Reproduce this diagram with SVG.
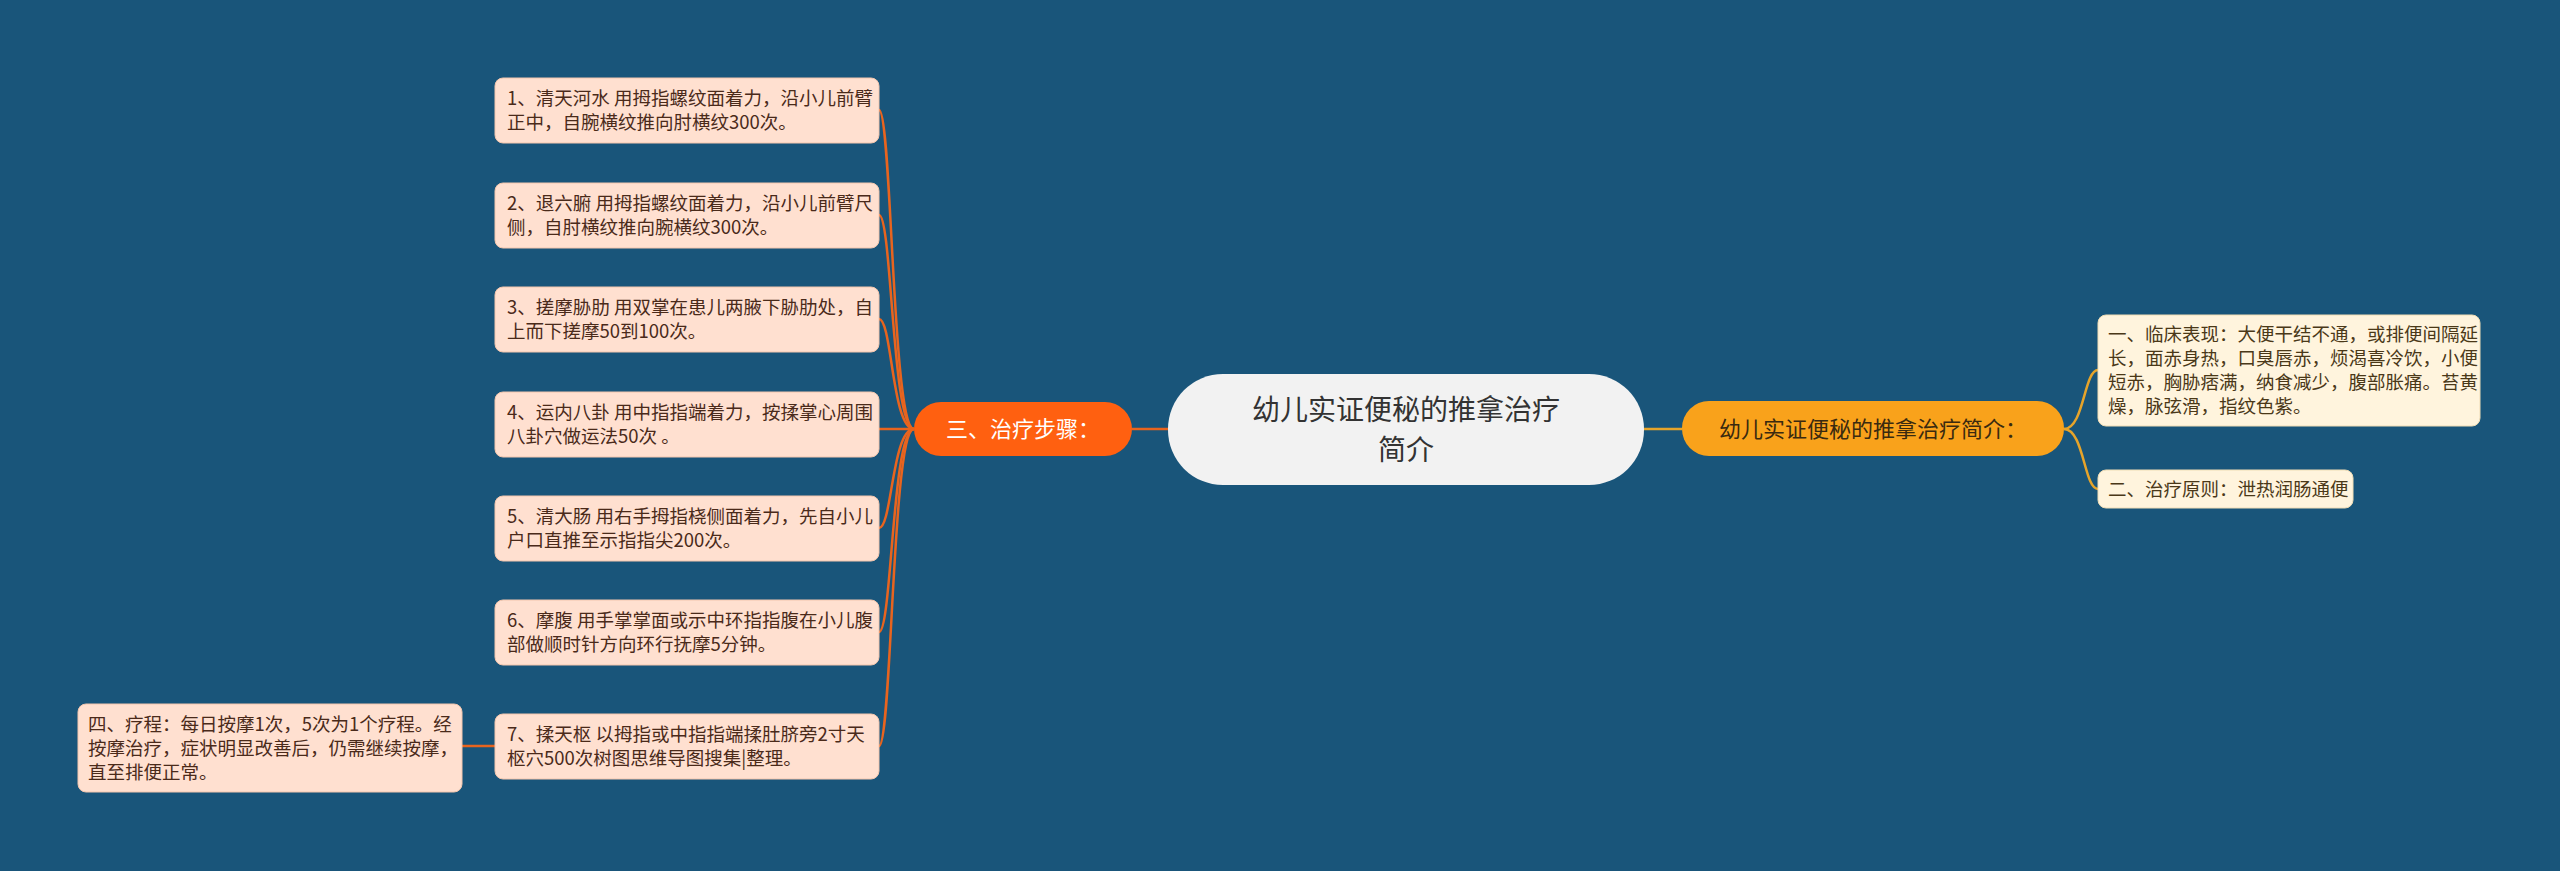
<svg xmlns="http://www.w3.org/2000/svg" width="2560" height="871" viewBox="0 0 2560 871">
<style>
text{font-family:"Noto Sans CJK SC","Noto Sans",sans-serif}
.lb{fill:#FFE0D0;stroke:#F3C6AE;stroke-width:1}
.lt{font-size:18.5px;fill:#4A2A1A}
.rb{fill:#FFF4DD;stroke:#F0DDB5;stroke-width:1}
.rt{font-size:18.5px;fill:#4A3818}
.cl{fill:none;stroke:#E8641E;stroke-width:2.5}
.cr{fill:none;stroke:#E6A42A;stroke-width:2.5}
</style>
<rect width="2560" height="871" fill="#19557A"/>
<g id="connectors">
<path class="cl" d="M1168 429 L1132 429"/>
<path class="cr" d="M1644 429 L1682 429"/>
<path class="cl" d="M914 429 C892 429 892 110 879 110"/>
<path class="cl" d="M914 429 C892 429 892 215 879 215"/>
<path class="cl" d="M914 429 C892 429 892 319 879 319"/>
<path class="cl" d="M914 429 L879 429"/>
<path class="cl" d="M914 429 C892 429 892 528 879 528"/>
<path class="cl" d="M914 429 C892 429 892 632 879 632"/>
<path class="cl" d="M914 429 C892 429 892 746 879 746"/>
<path class="cl" d="M495 746 L462 746"/>
<path class="cr" d="M2064 429 C2084 429 2084 370 2098 370"/>
<path class="cr" d="M2064 429 C2084 429 2084 489 2098 489"/>
</g>
<g id="center">
<rect x="1168" y="374" width="476" height="111" rx="55" fill="#F2F2F2"/>
<text x="1406" y="420" font-size="28" fill="#333" text-anchor="middle">幼儿实证便秘的推拿治疗</text>
<text x="1406" y="460" font-size="28" fill="#333" text-anchor="middle">简介</text>
</g>
<g id="steps">
<rect x="914" y="402" width="218" height="54" rx="27" fill="#FF6010"/>
<text x="1023" y="437" font-size="22" fill="#fff" text-anchor="middle">三、治疗步骤：</text>
</g>
<g id="intro">
<rect x="1682" y="401" width="382" height="55" rx="27" fill="#F9A21B"/>
<text x="1873" y="437" font-size="22" fill="#3A2A10" text-anchor="middle">幼儿实证便秘的推拿治疗简介：</text>
</g>
<g id="s1"><rect class="lb" x="495" y="78" width="384" height="65" rx="8"/>
<text class="lt" x="507" y="105">1、清天河水 用拇指螺纹面着力，沿小儿前臂</text><text class="lt" x="507" y="129">正中，自腕横纹推向肘横纹300次。</text></g>
<g id="s2"><rect class="lb" x="495" y="183" width="384" height="65" rx="8"/>
<text class="lt" x="507" y="210">2、退六腑 用拇指螺纹面着力，沿小儿前臂尺</text><text class="lt" x="507" y="234">侧，自肘横纹推向腕横纹300次。</text></g>
<g id="s3"><rect class="lb" x="495" y="287" width="384" height="65" rx="8"/>
<text class="lt" x="507" y="314">3、搓摩胁肋 用双掌在患儿两腋下胁肋处，自</text><text class="lt" x="507" y="338">上而下搓摩50到100次。</text></g>
<g id="s4"><rect class="lb" x="495" y="392" width="384" height="65" rx="8"/>
<text class="lt" x="507" y="419">4、运内八卦 用中指指端着力，按揉掌心周围</text><text class="lt" x="507" y="443">八卦穴做运法50次 。</text></g>
<g id="s5"><rect class="lb" x="495" y="496" width="384" height="65" rx="8"/>
<text class="lt" x="507" y="523">5、清大肠 用右手拇指桡侧面着力，先自小儿</text><text class="lt" x="507" y="547">户口直推至示指指尖200次。</text></g>
<g id="s6"><rect class="lb" x="495" y="600" width="384" height="65" rx="8"/>
<text class="lt" x="507" y="627">6、摩腹 用手掌掌面或示中环指指腹在小儿腹</text><text class="lt" x="507" y="651">部做顺时针方向环行抚摩5分钟。</text></g>
<g id="s7"><rect class="lb" x="495" y="714" width="384" height="65" rx="8"/>
<text class="lt" x="507" y="741">7、揉天枢 以拇指或中指指端揉肚脐旁2寸天</text><text class="lt" x="507" y="765">枢穴500次树图思维导图搜集|整理。</text></g>
<g id="s8"><rect class="lb" x="78" y="704" width="384" height="88" rx="8"/>
<text class="lt" x="88" y="731">四、疗程：每日按摩1次，5次为1个疗程。经</text><text class="lt" x="88" y="755">按摩治疗，症状明显改善后，仍需继续按摩，</text><text class="lt" x="88" y="779">直至排便正常。</text></g>
<g id="r1"><rect class="rb" x="2098" y="315" width="382" height="111" rx="8"/>
<text class="rt" x="2108" y="341">一、临床表现：大便干结不通，或排便间隔延</text><text class="rt" x="2108" y="365">长，面赤身热，口臭唇赤，烦渴喜冷饮，小便</text><text class="rt" x="2108" y="389">短赤，胸胁痞满，纳食减少，腹部胀痛。苔黄</text><text class="rt" x="2108" y="413">燥，脉弦滑，指纹色紫。</text></g>
<g id="r2"><rect class="rb" x="2098" y="470" width="255" height="38" rx="8"/>
<text class="rt" x="2108" y="496">二、治疗原则：泄热润肠通便</text></g>
</svg>
